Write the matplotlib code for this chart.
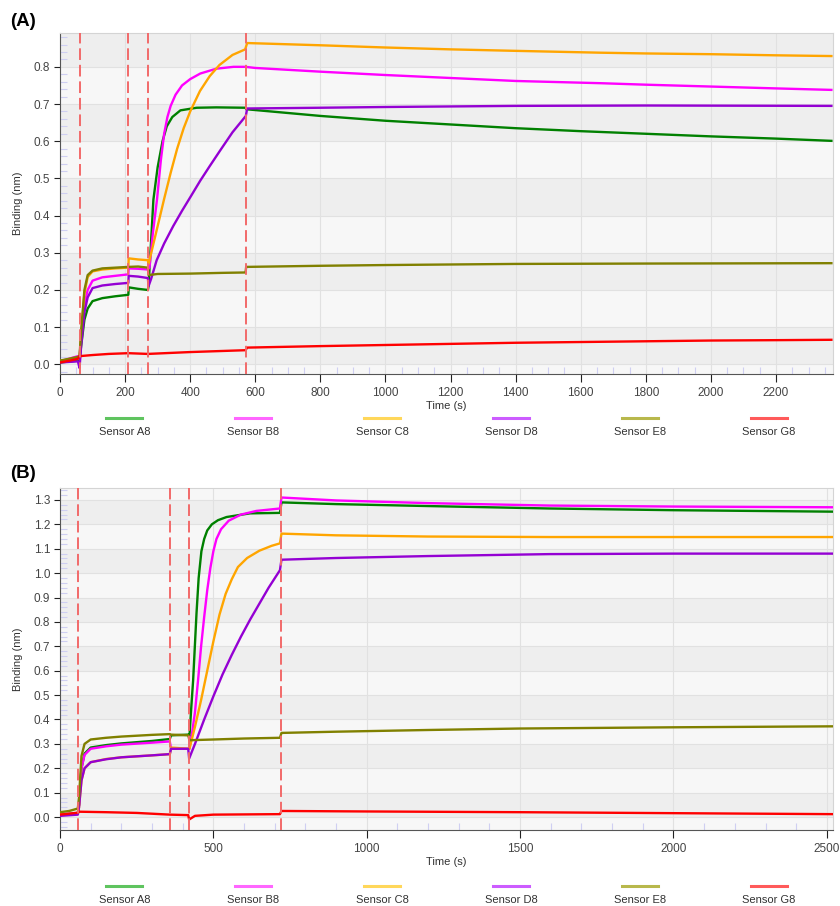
import matplotlib
matplotlib.use("Agg")
import matplotlib.pyplot as plt
from matplotlib.lines import Line2D
from matplotlib.ticker import MultipleLocator
import numpy as np

plt.rcParams['font.family'] = ['Liberation Sans', 'DejaVu Sans']

sensors = ["Sensor A8", "Sensor B8", "Sensor C8", "Sensor D8", "Sensor E8", "Sensor G8"]
colores = ["#008000", "#ff00ff", "#ffa500", "#9400d3", "#808000", "#ff0000"]
colores_leyenda = ["#5fc45f", "#ff66ff", "#ffd75a", "#cc5cff", "#b8b84c", "#ff5a5a"]

# ---------------- panel A ----------------
pasos_A = [60, 210, 270, 570]

a_A8_t = [0, 55, 60, 65, 75, 85, 100, 130, 170, 210, 211, 240, 270, 272, 287, 300, 315, 328, 345, 370, 420, 480, 570,
          572, 800, 1000, 1200, 1400, 1600, 1800, 2000, 2200, 2370]
a_A8_y = [0.005, 0.01, 0.01, 0.05, 0.12, 0.15, 0.17, 0.178, 0.183, 0.187, 0.207, 0.203, 0.200, 0.21, 0.443, 0.53, 0.60, 0.64,
          0.665, 0.683, 0.69, 0.691, 0.69, 0.686, 0.668, 0.655, 0.645, 0.635, 0.627, 0.62, 0.613, 0.607, 0.601]

a_B8_t = [0, 55, 60, 65, 75, 85, 100, 130, 170, 210, 211, 240, 270, 275, 285, 298, 310, 320, 330, 340, 355, 375, 400, 431,
          480, 533, 570, 600, 800, 1000, 1200, 1400, 1662, 1800, 2000, 2200, 2370]
a_B8_y = [0.008, 0.022, 0.02, 0.07, 0.16, 0.2, 0.225, 0.234, 0.238, 0.242, 0.258, 0.257, 0.255, 0.26, 0.35, 0.443, 0.55,
          0.62, 0.665, 0.695, 0.725, 0.75, 0.767, 0.782, 0.795, 0.80, 0.80, 0.797, 0.787, 0.778, 0.77, 0.762, 0.756, 0.752,
          0.747, 0.742, 0.738]

a_C8_t = [0, 55, 60, 65, 75, 85, 100, 130, 170, 210, 211, 240, 270, 272, 290, 305, 320, 340, 360, 380, 400, 430, 460, 490,
          530, 569, 575, 800, 1000, 1200, 1400, 1662, 1800, 2000, 2200, 2370]
a_C8_y = [0.01, 0.015, 0.015, 0.08, 0.19, 0.235, 0.25, 0.255, 0.258, 0.26, 0.285, 0.282, 0.28, 0.27, 0.335, 0.39, 0.445,
          0.515, 0.58, 0.635, 0.68, 0.735, 0.775, 0.805, 0.832, 0.847, 0.864, 0.858, 0.852, 0.847, 0.843, 0.838, 0.836,
          0.834, 0.831, 0.829]

a_D8_t = [0, 55, 60, 65, 75, 85, 100, 130, 170, 210, 211, 240, 270, 272, 280, 297, 320, 348, 375, 400, 431, 460, 492, 530,
          571, 575, 800, 1000, 1400, 1800, 2370]
a_D8_y = [0.005, 0.008, -0.01, 0.05, 0.14, 0.18, 0.205, 0.212, 0.216, 0.219, 0.238, 0.236, 0.232, 0.21, 0.23, 0.28, 0.325,
          0.372, 0.413, 0.449, 0.494, 0.533, 0.575, 0.624, 0.668, 0.688, 0.69, 0.692, 0.695, 0.696, 0.695]

a_E8_t = [0, 55, 60, 65, 75, 85, 100, 130, 170, 210, 240, 270, 272, 300, 400, 500, 570, 572, 800, 1000, 1400, 1800, 2370]
a_E8_y = [0.01, 0.02, 0.022, 0.09, 0.2, 0.24, 0.252, 0.258, 0.26, 0.262, 0.263, 0.26, 0.24, 0.243, 0.244, 0.246, 0.247,
          0.262, 0.265, 0.267, 0.27, 0.271, 0.272]

a_G8_t = [0, 30, 55, 60, 100, 150, 210, 270, 400, 570, 575, 800, 1000, 1200, 1400, 1600, 1800, 2000, 2200, 2370]
a_G8_y = [0.005, 0.01, 0.015, 0.022, 0.025, 0.028, 0.03, 0.028, 0.033, 0.038, 0.045, 0.049, 0.052, 0.055, 0.058, 0.06,
          0.062, 0.064, 0.065, 0.066]

# ---------------- panel B ----------------
pasos_B = [60, 360, 420, 720]

b_A8_t = [0, 58, 62, 70, 80, 100, 150, 200, 300, 358, 362, 418, 422, 428, 434, 445, 452, 461, 470, 480, 495, 515, 543, 619,
          717, 722, 900, 1200, 1596, 2000, 2520]
b_A8_y = [0.01, 0.015, 0.05, 0.2, 0.26, 0.285, 0.295, 0.302, 0.312, 0.32, 0.335, 0.338, 0.33, 0.45, 0.56, 0.835, 0.98,
          1.09, 1.14, 1.175, 1.2, 1.217, 1.23, 1.245, 1.247, 1.29, 1.283, 1.275, 1.265, 1.258, 1.252]

b_B8_t = [0, 58, 62, 70, 80, 100, 150, 200, 300, 358, 362, 418, 422, 430, 440, 450, 460, 470, 480, 490, 500, 510, 525, 550,
          590, 640, 717, 722, 900, 1200, 1596, 2000, 2520]
b_B8_y = [0.01, 0.015, 0.05, 0.2, 0.255, 0.28, 0.29, 0.297, 0.305, 0.31, 0.28, 0.28, 0.28, 0.34, 0.43, 0.56, 0.7, 0.82,
          0.93, 1.02, 1.09, 1.14, 1.18, 1.215, 1.24, 1.255, 1.265, 1.31, 1.298, 1.287, 1.277, 1.273, 1.27]

b_C8_t = [0, 58, 62, 70, 80, 100, 150, 200, 300, 358, 362, 418, 422, 440, 460, 480, 500, 520, 540, 560, 580, 610, 650, 690,
          717, 722, 900, 1200, 1596, 2000, 2520]
b_C8_y = [0.01, 0.012, 0.04, 0.15, 0.2, 0.225, 0.238, 0.245, 0.253, 0.258, 0.285, 0.28, 0.28, 0.37, 0.48, 0.6, 0.72, 0.83,
          0.915, 0.975, 1.025, 1.062, 1.092, 1.112, 1.122, 1.162, 1.155, 1.15, 1.148, 1.148, 1.148]

b_D8_t = [0, 58, 62, 70, 80, 100, 150, 200, 300, 358, 362, 418, 421, 440, 470, 500, 530, 560, 590, 620, 650, 680, 717,
          722, 900, 1200, 1596, 2000, 2520]
b_D8_y = [0.005, 0.01, 0.04, 0.15, 0.2, 0.225, 0.237, 0.245, 0.253, 0.258, 0.28, 0.28, 0.24, 0.3, 0.4, 0.495, 0.585,
          0.665, 0.74, 0.81, 0.875, 0.94, 1.012, 1.055, 1.062, 1.07, 1.078, 1.08, 1.08]

b_E8_t = [0, 30, 58, 62, 70, 80, 100, 150, 200, 300, 358, 362, 418, 422, 500, 600, 717, 722, 900, 1200, 1500, 2000, 2520]
b_E8_y = [0.02, 0.025, 0.035, 0.08, 0.25, 0.3, 0.318, 0.325, 0.33, 0.337, 0.34, 0.338, 0.335, 0.315, 0.318, 0.322, 0.325,
          0.345, 0.35, 0.357, 0.363, 0.368, 0.372]

b_G8_t = [0, 58, 62, 150, 250, 358, 418, 421, 440, 500, 717, 722, 1000, 1500, 2000, 2520]
b_G8_y = [0.01, 0.018, 0.022, 0.02, 0.017, 0.01, 0.008, -0.01, 0.005, 0.01, 0.012, 0.025, 0.023, 0.02, 0.016, 0.012]

curvas_A = [(a_A8_t, a_A8_y), (a_B8_t, a_B8_y), (a_C8_t, a_C8_y), (a_D8_t, a_D8_y), (a_E8_t, a_E8_y), (a_G8_t, a_G8_y)]
curvas_B = [(b_A8_t, b_A8_y), (b_B8_t, b_B8_y), (b_C8_t, b_C8_y), (b_D8_t, b_D8_y), (b_E8_t, b_E8_y), (b_G8_t, b_G8_y)]


def panel(ax, curvas, pasos, xmax, ymin, ymax, xmajor, xminor, ytop):
    # bandas grises horizontales
    for k in range(-1, int(ymax * 10) + 1):
        ax.axhspan(k * 0.1, (k + 1) * 0.1, color="#eeeeee" if k % 2 == 0 else "#f7f7f7", lw=0, zorder=0)
    for (t, y), c in zip(curvas, colores):
        ax.plot(t, y, color=c, lw=1.7, zorder=3, solid_joinstyle="round")
    for p in pasos:
        ax.axvline(p, color="#f26a6a", lw=1.4, ls=(0, (6, 2.5)), zorder=4)
    ax.set_xlim(0, xmax)
    ax.set_ylim(ymin, ymax)
    ax.xaxis.set_major_locator(MultipleLocator(xmajor))
    ax.xaxis.set_minor_locator(MultipleLocator(xminor))
    ax.set_yticks(np.round(np.arange(0, ytop + 0.001, 0.1), 1))
    ax.yaxis.set_minor_locator(MultipleLocator(0.02))
    ax.yaxis.set_major_formatter(matplotlib.ticker.FormatStrFormatter("%.1f"))
    ax.grid(True, which="major", color="#e1e1e1", lw=0.8, zorder=1)
    ax.set_axisbelow(True)
    ax.tick_params(axis="x", which="major", direction="out", length=6, color="#222222",
                   labelsize=8.5, labelcolor="#444444", pad=3)
    ax.tick_params(axis="y", which="major", direction="out", length=4, color="#222222",
                   labelsize=8.5, labelcolor="#444444", pad=3)
    ax.tick_params(which="minor", direction="in", length=5, color="#cfcff2", width=0.8)
    for s in ["left", "bottom"]:
        ax.spines[s].set_color("#555555")
    for s in ["top", "right"]:
        ax.spines[s].set_color("#d4d4d4")
    ax.set_xlabel("Time (s)", fontsize=8, color="#333333", labelpad=2)
    ax.set_ylabel("Binding (nm)", fontsize=8, color="#333333", labelpad=8)


fig = plt.figure(figsize=(8.4, 9.06), dpi=100)
W, H = 840.0, 906.0

axA = fig.add_axes([60 / W, 1 - 374 / H, 773 / W, 341 / H])
panel(axA, curvas_A, pasos_A, 2375, -0.026, 0.891, 200, 50, 0.8)
axB = fig.add_axes([60 / W, 1 - 830 / H, 773 / W, 342 / H])
panel(axB, curvas_B, pasos_B, 2520, -0.053, 1.349, 500, 100, 1.3)

# leyendas debajo de cada panel
for y_linea, y_texto in [(418, 432), (886, 900)]:
    for i in range(6):
        xc = (60 + (i + 0.5) * 773 / 6) / W
        fig.add_artist(Line2D([xc - 18 / W, xc + 18 / W], [1 - y_linea / H, 1 - y_linea / H],
                              color=colores_leyenda[i], lw=2.2))
        fig.text(xc, 1 - y_texto / H, sensors[i], ha="center", va="center", fontsize=8, color="#333333")

fig.text(10 / W, 1 - 21 / H, "(A)", fontsize=13.5, fontweight="bold", va="center", ha="left")
fig.text(10 / W, 1 - 474 / H, "(B)", fontsize=13.5, fontweight="bold", va="center", ha="left")

fig.savefig("out.png", dpi=100)
